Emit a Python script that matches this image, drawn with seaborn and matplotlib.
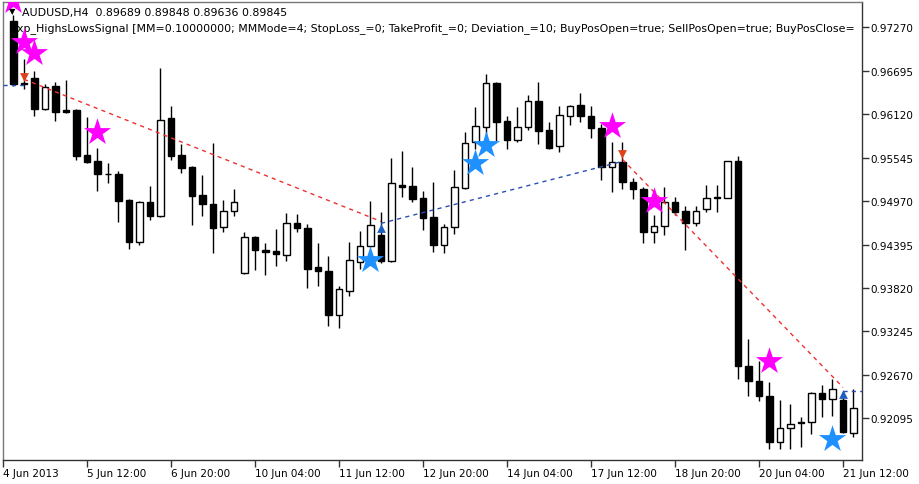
import matplotlib
matplotlib.use("Agg")
import matplotlib.pyplot as plt
import seaborn as sns
import pandas as pd

# AUDUSD H4 candles (bar index 1..81, 4 Jun 2013 04:00 onwards)
opens = [0.97349, 0.96515, 0.96595, 0.96184, 0.96489, 0.96171, 0.96171, 0.95575, 0.95496, 0.95330,
         0.95324, 0.94980, 0.94423, 0.94953, 0.94768, 0.96065, 0.95575, 0.95416, 0.95046, 0.94927,
         0.94622, 0.94834, 0.94013, 0.94490, 0.94317, 0.94304, 0.94251, 0.94675, 0.94609, 0.94092,
         0.94039, 0.93457, 0.93775, 0.94159, 0.94370, 0.94516, 0.94172, 0.95178, 0.95165, 0.95006,
         0.94754, 0.94384, 0.94622, 0.95138, 0.95747, 0.95946, 0.96529, 0.96025, 0.95774, 0.95946,
         0.96290, 0.95906, 0.95694, 0.96092, 0.96237, 0.96092, 0.95933, 0.95416, 0.95483, 0.95218,
         0.95125, 0.94556, 0.94635, 0.94953, 0.94834, 0.94675, 0.94860, 0.95019, 0.95006, 0.95496,
         0.92782, 0.92583, 0.92384, 0.91775, 0.91961, 0.92040, 0.92040, 0.92424, 0.92345, 0.92332,
         0.91894]
highs = [0.97429, 0.96846, 0.96687, 0.96515, 0.96542, 0.96568, 0.96184, 0.96078, 0.95668, 0.95469,
         0.95363, 0.94993, 0.94966, 0.95165, 0.96727, 0.96224, 0.95721, 0.95430, 0.95310, 0.95734,
         0.94980, 0.95125, 0.94556, 0.94503, 0.94410, 0.94595, 0.94807, 0.94794, 0.94662, 0.94410,
         0.94238, 0.93841, 0.94423, 0.94569, 0.94966, 0.94821, 0.95536, 0.95628, 0.95416, 0.95099,
         0.95218, 0.94662, 0.95377, 0.95880, 0.96211, 0.96648, 0.96542, 0.96092, 0.96211, 0.96370,
         0.96542, 0.96012, 0.96224, 0.96237, 0.96396, 0.96224, 0.95986, 0.95747, 0.95747, 0.95271,
         0.95152, 0.94781, 0.95152, 0.95019, 0.94900, 0.94900, 0.95178, 0.95178, 0.95496, 0.95562,
         0.93139, 0.92848, 0.92570, 0.92332, 0.92279, 0.92106, 0.92437, 0.92530, 0.92610, 0.92451,
         0.92477]
lows = [0.96489, 0.96449, 0.96092, 0.96171, 0.96025, 0.96131, 0.95509, 0.95469, 0.95099, 0.95205,
        0.94688, 0.94331, 0.94384, 0.94715, 0.94754, 0.95509, 0.95337, 0.94648, 0.94768, 0.94278,
        0.94556, 0.94768, 0.93999, 0.94053, 0.93986, 0.94106, 0.94172, 0.94556, 0.93814, 0.93841,
        0.93311, 0.93285, 0.93708, 0.94066, 0.94357, 0.94145, 0.94159, 0.95019, 0.94953, 0.94582,
        0.94291, 0.94278, 0.94529, 0.95125, 0.95655, 0.95827, 0.95761, 0.95655, 0.95747, 0.95906,
        0.95721, 0.95655, 0.95615, 0.95972, 0.96012, 0.95800, 0.95244, 0.95085, 0.95125, 0.94993,
        0.94410, 0.94410, 0.94516, 0.94781, 0.94317, 0.94635, 0.94821, 0.94821, 0.95006, 0.92610,
        0.92384, 0.92318, 0.91683, 0.91683, 0.91683, 0.91709, 0.91881, 0.92106, 0.92120, 0.91894,
        0.91842]
closes = [0.96515, 0.96529, 0.96184, 0.96476, 0.96145, 0.96145, 0.95562, 0.95483, 0.95324, 0.95324,
          0.94966, 0.94423, 0.94953, 0.94768, 0.96039, 0.95562, 0.95403, 0.95032, 0.94927, 0.94609,
          0.94834, 0.94953, 0.94490, 0.94317, 0.94291, 0.94264, 0.94675, 0.94609, 0.94066, 0.94039,
          0.93457, 0.93801, 0.94185, 0.94370, 0.94648, 0.94172, 0.95205, 0.95152, 0.94993, 0.94741,
          0.94384, 0.94622, 0.95152, 0.95734, 0.95959, 0.96529, 0.96012, 0.95774, 0.95946, 0.96290,
          0.95893, 0.95668, 0.96105, 0.96224, 0.96092, 0.95933, 0.95416, 0.95483, 0.95218, 0.95125,
          0.94556, 0.94635, 0.94953, 0.94821, 0.94675, 0.94834, 0.95006, 0.95006, 0.95496, 0.92782,
          0.92583, 0.92384, 0.91775, 0.91961, 0.92014, 0.92027, 0.92424, 0.92345, 0.92477, 0.91908,
          0.92225]
bars = list(range(1, len(opens) + 1))

# signal stars
sell_star_bar = [1, 2, 3, 9, 58, 62, 73]
sell_star_price = [0.97614, 0.97071, 0.96926, 0.95880, 0.95960, 0.94966, 0.92848]
buy_star_bar = [35, 45, 46, 79]
buy_star_price = [0.94185, 0.95470, 0.95708, 0.91818]

# trades (entry bar, entry price, exit bar, exit price)
sell_trades = [(2, 0.96582, 36, 0.94701), (59, 0.95522, 80, 0.92504)]
buy_trades = [(0, 0.96502, 2, 0.96502), (36, 0.94675, 59, 0.95496), (80, 0.92451, 81.9, 0.92451)]
sell_arrow_bar = [2, 59]
sell_arrow_price = [0.96608, 0.95589]
buy_arrow_bar = [36, 80]
buy_arrow_price = [0.94609, 0.92411]

y_ticks = [0.97270, 0.96695, 0.96120, 0.95545, 0.94970, 0.94395, 0.93820, 0.93245, 0.92670, 0.92095]
x_ticks = [0, 8, 16, 24, 32, 40, 48, 56, 64, 72, 80]
x_labels = ["4 Jun 2013", "5 Jun 12:00", "6 Jun 20:00", "10 Jun 04:00", "11 Jun 12:00",
            "12 Jun 20:00", "14 Jun 04:00", "17 Jun 12:00", "18 Jun 20:00", "20 Jun 04:00",
            "21 Jun 12:00"]

header = "AUDUSD,H4  0.89689 0.89848 0.89636 0.89845"
expert = ("Exp_HighsLowsSignal [MM=0.10000000; MMMode=4; StopLoss_=0; TakeProfit_=0; "
          "Deviation_=10; BuyPosOpen=true; SellPosOpen=true; BuyPosClose=")

sns.set_style("white")
plt.rcParams['font.family'] = ['DejaVu Sans']

df = pd.DataFrame({"bar": bars, "open": opens, "high": highs, "low": lows, "close": closes})
df["up"] = df["close"] >= df["open"]
df["bottom"] = df[["open", "close"]].min(axis=1)
df["height"] = (df["close"] - df["open"]).abs()

fig = plt.figure(figsize=(9.2, 4.85), dpi=100)
ax = fig.add_axes([3 / 920, 24 / 485, 859 / 920, 458 / 485])

# wicks and bodies
ax.vlines(df["bar"], df["low"], df["high"], color="black", lw=1, zorder=2)
ax.bar(df["bar"], df["height"], bottom=df["bottom"], width=0.6,
       color=["white" if u else "black" for u in df["up"]], edgecolor="black", lw=1, zorder=3)

# trade lines
for b0, p0, b1, p1 in sell_trades:
    ax.plot([b0, b1], [p0, p1], color="#f03030", lw=1, ls=(0, (3, 3)), zorder=4)
for b0, p0, b1, p1 in buy_trades:
    ax.plot([b0, b1], [p0, p1], color="#2a4fb0", lw=1, ls=(0, (3, 3)), zorder=4)

sns.scatterplot(x=sell_arrow_bar, y=sell_arrow_price, marker="v", s=40, color="#e0401a",
                linewidth=0, ax=ax, zorder=6)
sns.scatterplot(x=buy_arrow_bar, y=buy_arrow_price, marker="^", s=40, color="#1f5fbf",
                linewidth=0, ax=ax, zorder=6)

# signal stars
sns.scatterplot(x=sell_star_bar, y=sell_star_price, marker="*", s=420, color="#ff00ff",
                linewidth=0, ax=ax, zorder=7)
sns.scatterplot(x=buy_star_bar, y=buy_star_price, marker="*", s=420, color="#1e90ff",
                linewidth=0, ax=ax, zorder=7)

ax.set_xlim(0, 81.81)
ax.set_ylim(0.91543, 0.97605)

ax.yaxis.tick_right()
ax.set_yticks(y_ticks)
ax.set_yticklabels([f"{v:.5f}" for v in y_ticks])
ax.set_xticks(x_ticks)
ax.set_xticklabels(x_labels, ha="left")
ax.tick_params(axis="both", direction="out", length=5, width=1, color="#333333",
               labelsize=7.5, labelcolor="black", pad=1)
ax.tick_params(axis="x", bottom=True)
ax.tick_params(axis="y", right=True)

for side in ["left", "top"]:
    ax.spines[side].set_color("#777777")
    ax.spines[side].set_linewidth(1)
for side in ["right", "bottom"]:
    ax.spines[side].set_color("#333333")
    ax.spines[side].set_linewidth(1)

fig.text(12 / 920, 1 - 12 / 485, "\u25bc", fontsize=6, ha="center", va="center", color="black")
fig.text(22 / 920, 1 - 13 / 485, header, fontsize=7.9, ha="left", va="center", color="black")
ax.text(7 / 859, 1 - 26 / 458, expert, fontsize=7.9, ha="left", va="center",
        color="black", transform=ax.transAxes, zorder=1)

fig.savefig("out.png", dpi=100)
